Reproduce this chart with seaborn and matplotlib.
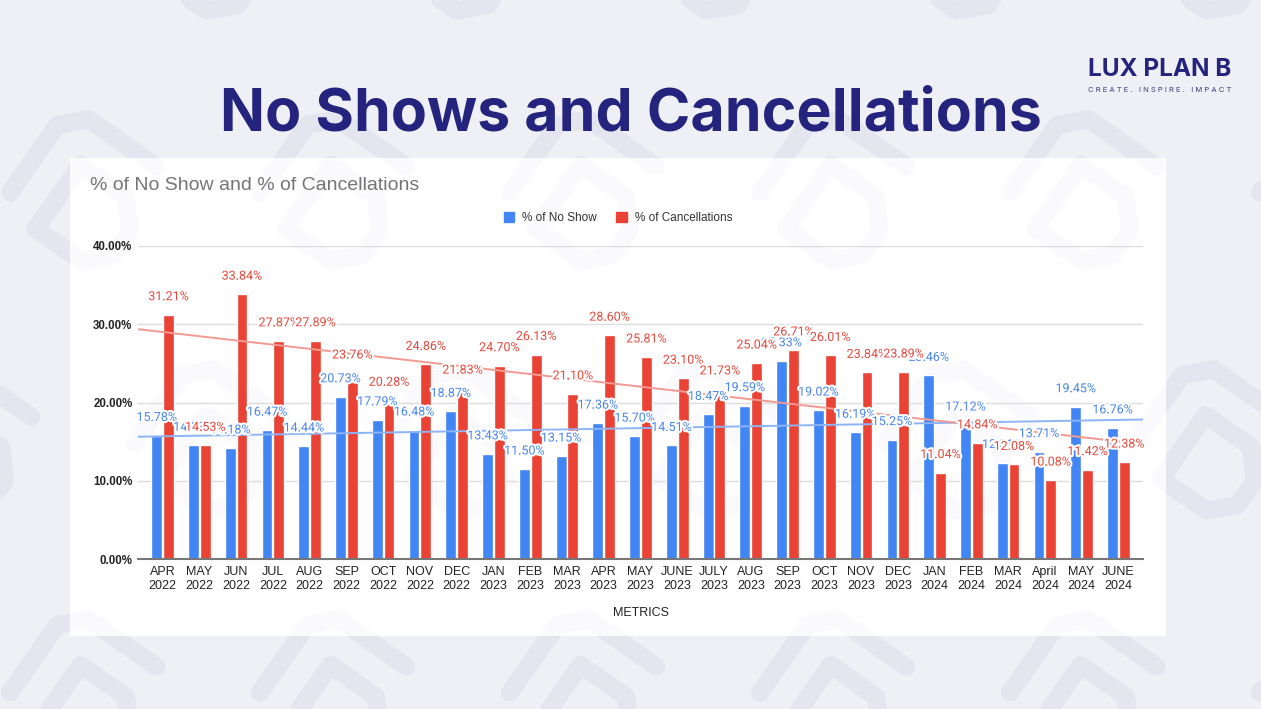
import numpy as np
import pandas as pd
import seaborn as sns
import matplotlib.pyplot as plt
import matplotlib.patheffects as pe
from matplotlib.patches import Rectangle
from matplotlib.lines import Line2D

months = ['APR\n2022', 'MAY\n2022', 'JUN\n2022', 'JUL\n2022', 'AUG\n2022', 'SEP\n2022',
          'OCT\n2022', 'NOV\n2022', 'DEC\n2022', 'JAN\n2023', 'FEB\n2023', 'MAR\n2023',
          'APR\n2023', 'MAY\n2023', 'JUNE\n2023', 'JULY\n2023', 'AUG\n2023', 'SEP\n2023',
          'OCT\n2023', 'NOV\n2023', 'DEC\n2023', 'JAN\n2024', 'FEB\n2024', 'MAR\n2024',
          'April\n2024', 'MAY\n2024', 'JUNE\n2024']
no_show = [15.78, 14.53, 14.18, 16.47, 14.44, 20.73, 17.79, 16.48, 18.87, 13.43, 11.50, 13.15,
           17.36, 15.70, 14.51, 18.47, 19.59, 25.33, 19.02, 16.19, 15.25, 23.46, 17.12, 12.31,
           13.71, 19.45, 16.76]
cancellations = [31.21, 14.53, 33.84, 27.87, 27.89, 23.76, 20.28, 24.86, 21.83, 24.70, 26.13, 21.10,
                 28.60, 25.81, 23.10, 21.73, 25.04, 26.71, 26.01, 23.84, 23.89, 11.04, 14.84, 12.08,
                 10.08, 11.42, 12.38]
series = ['% of No Show', '% of Cancellations']

df = pd.DataFrame({
    'month': months * 2,
    'value': no_show + cancellations,
    'series': [series[0]] * len(months) + [series[1]] * len(months),
})

blue, red = '#4285f4', '#ea4335'
navy = '#24247f'

sns.set_style('white')
plt.rcParams['font.family'] = ['Liberation Sans', 'DejaVu Sans']

fig = plt.figure(figsize=(12.61, 7.09), dpi=100, facecolor='#eff0f5')
W, H = 1261, 709

# faint logo watermark pattern (background decoration)
motif = [np.array([(-40, 30), (-40, -25), (-25, -40), (30, -40)]) * 1.5,
         np.array([(-12, 40), (-12, -12), (25, -12), (40, 5), (40, 25), (25, 40), (-12, 40)]) * 1.5]
ang = np.deg2rad(35)
rot = np.array([[np.cos(ang), -np.sin(ang)], [np.sin(ang), np.cos(ang)]])
for row, cy in enumerate(range(-60, 800, 250)):
    for cx in range(-40 + (row % 2) * 125, 1400, 250):
        for part in motif:
            p = part @ rot.T + (cx, cy)
            for z, c, a in [(-2, '#e6e7ef', 1.0), (0.5, '#dcdde8', 0.12)]:
                fig.add_artist(Line2D(p[:, 0] / W, 1 - p[:, 1] / H, transform=fig.transFigure,
                                      color=c, alpha=a, linewidth=13,
                                      solid_capstyle='round', solid_joinstyle='round', zorder=z))

# white chart card
fig.patches.append(Rectangle((70 / W, 1 - 636 / H), 1096 / W, 478 / H,
                             transform=fig.transFigure, facecolor='white',
                             edgecolor='none', zorder=-1))

ax = fig.add_axes([138 / W, 1 - 559 / H, (1143 - 138) / W, (559 - 246) / H])
ax.set_zorder(1)
ax.set_facecolor('none')

sns.barplot(data=df, x='month', y='value', hue='series', palette=[blue, red],
            width=0.64, gap=0.08, saturation=1, ax=ax, legend=False, zorder=2)

ax.set_xlim(-0.67, 26.67)
ax.set_ylim(0, 40)
ax.set_yticks([0, 10, 20, 30, 40])
ax.set_yticklabels([f'{v:.2f}%' for v in [0, 10, 20, 30, 40]])
ax.grid(axis='y', color='#dcdcdc', linewidth=1)
ax.set_axisbelow(True)
for s in ['top', 'right', 'left']:
    ax.spines[s].set_visible(False)
ax.spines['bottom'].set_color('#777777')
ax.spines['bottom'].set_linewidth(1.5)
ax.tick_params(axis='y', length=0, labelsize=8.3, labelcolor='#222222', pad=4)
ax.tick_params(axis='x', length=0, labelsize=9, labelcolor='#222222', pad=5)
for t in ax.get_yticklabels():
    t.set_fontweight('bold')
ax.set_xlabel('METRICS', fontsize=9, color='#222222', labelpad=11)
ax.set_ylabel('')

# linear trend lines
idx = np.arange(len(months))
xs = np.array([-0.67, 26.67])
for vals, col in [(no_show, '#8db4f7'), (cancellations, '#f29a92')]:
    k, b = np.polyfit(idx, vals, 1)
    ax.plot(xs, k * xs + b, color=col, linewidth=1.4, zorder=3)

# data labels
halo = [pe.withStroke(linewidth=3, foreground='white')]
for cont, vals, col in zip(ax.containers, [no_show, cancellations], ['#4a86ee', '#e5483c']):
    for bar, v in zip(cont, vals):
        ax.annotate(f'{v:.2f}%', (bar.get_x() + bar.get_width() / 2, bar.get_height()),
                    xytext=(0, 13), textcoords='offset points', ha='center', va='center',
                    fontsize=9, color=col, family=['Roboto', 'DejaVu Sans'],
                    path_effects=halo, zorder=5)

# legend
handles = [plt.Rectangle((0, 0), 1, 1, color=c) for c in [blue, red]]
fig.legend(handles, series, loc='center', bbox_to_anchor=(618 / W, 1 - 218 / H), ncol=2,
           frameon=False, fontsize=8.5, handlelength=0.9, handleheight=0.9,
           columnspacing=1.6, handletextpad=0.7, labelcolor='#333333')

fig.text(90 / W, 1 - 186 / H, '% of No Show and % of Cancellations', fontsize=14,
         color='#757575', va='center', ha='left')

fig.text(631 / W, 1 - 115 / H, 'No Shows and Cancellations', fontsize=42.5, fontweight='bold',
         color=navy, ha='center', va='center', family=['Inter', 'DejaVu Sans'])
fig.text(1160 / W, 1 - 69 / H, 'LUX PLAN B', fontsize=17.5, fontweight='bold', color=navy,
         ha='center', va='center', family=['Inter', 'DejaVu Sans'])
fig.text(1160 / W, 1 - 90 / H, 'C R E A T E .   I N S P I R E .   I M P A C T', fontsize=5.5,
         color='#3a3a80', ha='center', va='center', family=['Inter', 'DejaVu Sans'])

fig.savefig('out.png', dpi=100, facecolor=fig.get_facecolor())
